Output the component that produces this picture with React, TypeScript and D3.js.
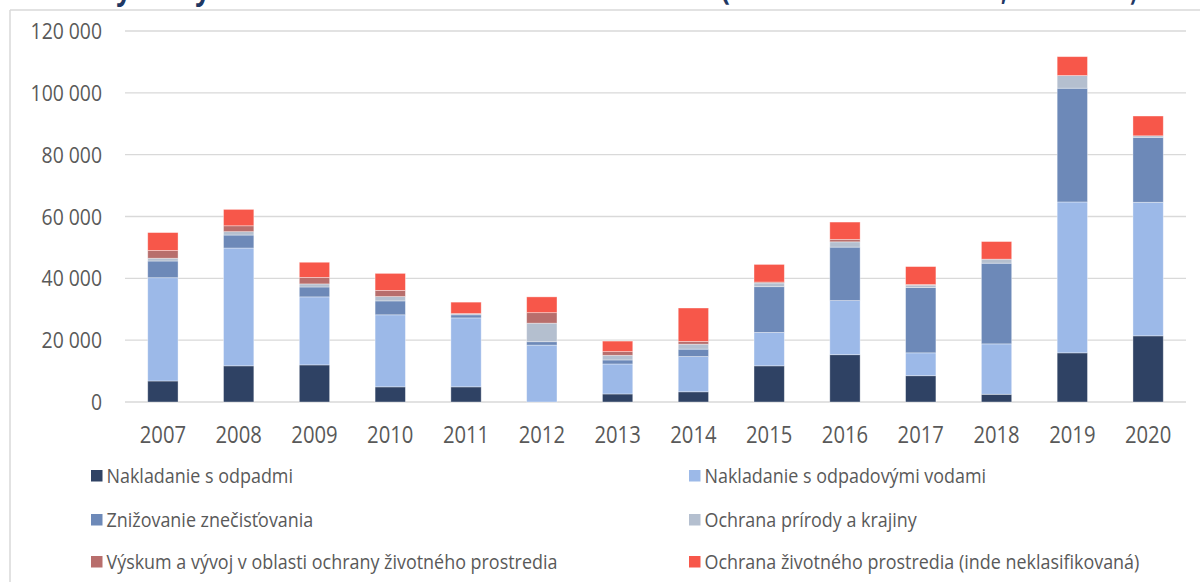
import React from "react";
import * as d3 from "d3";

const years = ["2007","2008","2009","2010","2011","2012","2013","2014","2015","2016","2017","2018","2019","2020"];
const seriesNames = [
  "Nakladanie s odpadmi",
  "Nakladanie s odpadovými vodami",
  "Znižovanie znečisťovania",
  "Ochrana prírody a krajiny",
  "Výskum a vývoj v oblasti ochrany životného prostredia",
  "Ochrana životného prostredia (inde neklasifikovaná)",
];
const seriesColors = ["#2f4264", "#9cb9e8", "#6d89b8", "#b4bfcf", "#b86e6c", "#f7574a"];

const odpady = [6800, 11700, 12000, 4900, 4900, 0, 2600, 3300, 11700, 15300, 8500, 2500, 15900, 21400];
const odpadoveVody = [33400, 38100, 22000, 23300, 22300, 18400, 9700, 11400, 10800, 17500, 7400, 16300, 48800, 43200];
const znecistovanie = [5400, 4200, 3200, 4500, 1000, 1100, 1300, 2400, 14800, 17300, 21100, 26100, 36800, 21000];
const priroda = [900, 1100, 1000, 1400, 400, 6000, 1500, 1600, 1200, 1700, 800, 1300, 4100, 500];
const vyskum = [2500, 1900, 2100, 2000, 0, 3400, 1200, 900, 300, 800, 200, 0, 0, 0];
const inde = [5800, 5300, 4900, 5500, 3700, 5100, 3400, 10800, 5700, 5600, 5800, 5700, 6100, 6400];

const yTicks = [0, 20000, 40000, 60000, 80000, 100000, 120000];

const SX = 0.88;
const FONT = "'Open Sans', sans-serif";
const TXT = "#595959";

function SText(props: { x: number; y: number; size: number; anchor?: string; fill?: string; weight?: string | number; fitWidth?: number; sx?: number; children: React.ReactNode }) {
  const { x, y, size, anchor = "start", fill = TXT, weight = 400, fitWidth, sx = SX, children } = props;
  const extra: any = fitWidth ? { textLength: fitWidth / sx, lengthAdjust: "spacingAndGlyphs" } : {};
  return (
    <text
      transform={`translate(${x},${y}) scale(${sx},1)`}
      textAnchor={anchor}
      fontFamily={FONT}
      fontSize={size}
      fontWeight={weight}
      fill={fill}
      {...extra}
    >
      {children}
    </text>
  );
}

export default function App() {
  const W = 1200, H = 582;
  const x = d3.scaleBand<string>().domain(years).range([125, 1186]).paddingInner(0.6).paddingOuter(0.3);
  const y = d3.scaleLinear().domain([0, 120000]).range([402, 31]);

  const table = years.map((yr, i) => ({
    year: yr,
    s0: odpady[i], s1: odpadoveVody[i], s2: znecistovanie[i], s3: priroda[i], s4: vyskum[i], s5: inde[i],
  }));
  const keys = ["s0", "s1", "s2", "s3", "s4", "s5"];
  const stacked = d3.stack<any>().keys(keys)(table);
  const fmt = (v: number) => d3.format(",")(v).replace(/,/g, " ");

  const legendCols = [91, 689];
  const legendRows = [476, 520, 562];

  return (
    <svg width={W} height={H} style={{ position: "absolute", left: 0, top: 0, background: "#fff" }}>
      <rect x={0} y={0} width={W} height={H} fill="#fff" />
      {/* title, cut off by the top edge in the reference */}
      <SText x={99} y={0} size={30} weight={700} fill="#1f3864">Výdavky na ochranu ŽP v SR</SText>
      <SText x={721} y={0} size={30} weight={700} fill="#1f3864">(v tisícoch eur</SText>
      <SText x={1001} y={0} size={30} weight={700} fill="#1f3864" fitWidth={136}>, 2007 – 2020)</SText>
      {/* frame */}
      <line x1={10} x2={W} y1={10} y2={10} stroke="#d9d9d9" strokeWidth={1.5} />
      <line x1={10} x2={10} y1={10} y2={H} stroke="#d9d9d9" strokeWidth={1.5} />
      {/* gridlines */}
      {yTicks.map((t) => (
        <line key={t} x1={125} x2={1186} y1={y(t)} y2={y(t)} stroke="#d9d9d9" strokeWidth={1.4} />
      ))}
      {yTicks.map((t) => (
        <SText key={"l" + t} x={102} y={y(t) + 8} size={22} anchor="end">{fmt(t)}</SText>
      ))}
      {/* bars */}
      {stacked.map((layer, si) => (
        <g key={si} fill={seriesColors[si]}>
          {layer.map((d: any, i: number) => {
            const h = y(d[0]) - y(d[1]);
            if (h <= 0) return null;
            return (
              <rect
                key={i}
                x={x(years[i])!}
                y={y(d[1])}
                width={x.bandwidth()}
                height={h}
                stroke="#ffffff"
                strokeOpacity={0.45}
                strokeWidth={0.8}
              />
            );
          })}
        </g>
      ))}
      {/* x labels */}
      {years.map((yr) => (
        <SText key={yr} x={x(yr)! + x.bandwidth() / 2} y={443} size={23} anchor="middle">{yr}</SText>
      ))}
      {/* legend */}
      {seriesNames.map((name, i) => {
        const cx = legendCols[i % 2];
        const cy = legendRows[Math.floor(i / 2)];
        return (
          <g key={name}>
            <rect x={cx} y={cy - 6} width={11.5} height={11.5} fill={seriesColors[i]} />
            <SText x={cx + 15.5} y={cy + 7} size={19.5} sx={0.92}>{name}</SText>
          </g>
        );
      })}
    </svg>
  );
}
